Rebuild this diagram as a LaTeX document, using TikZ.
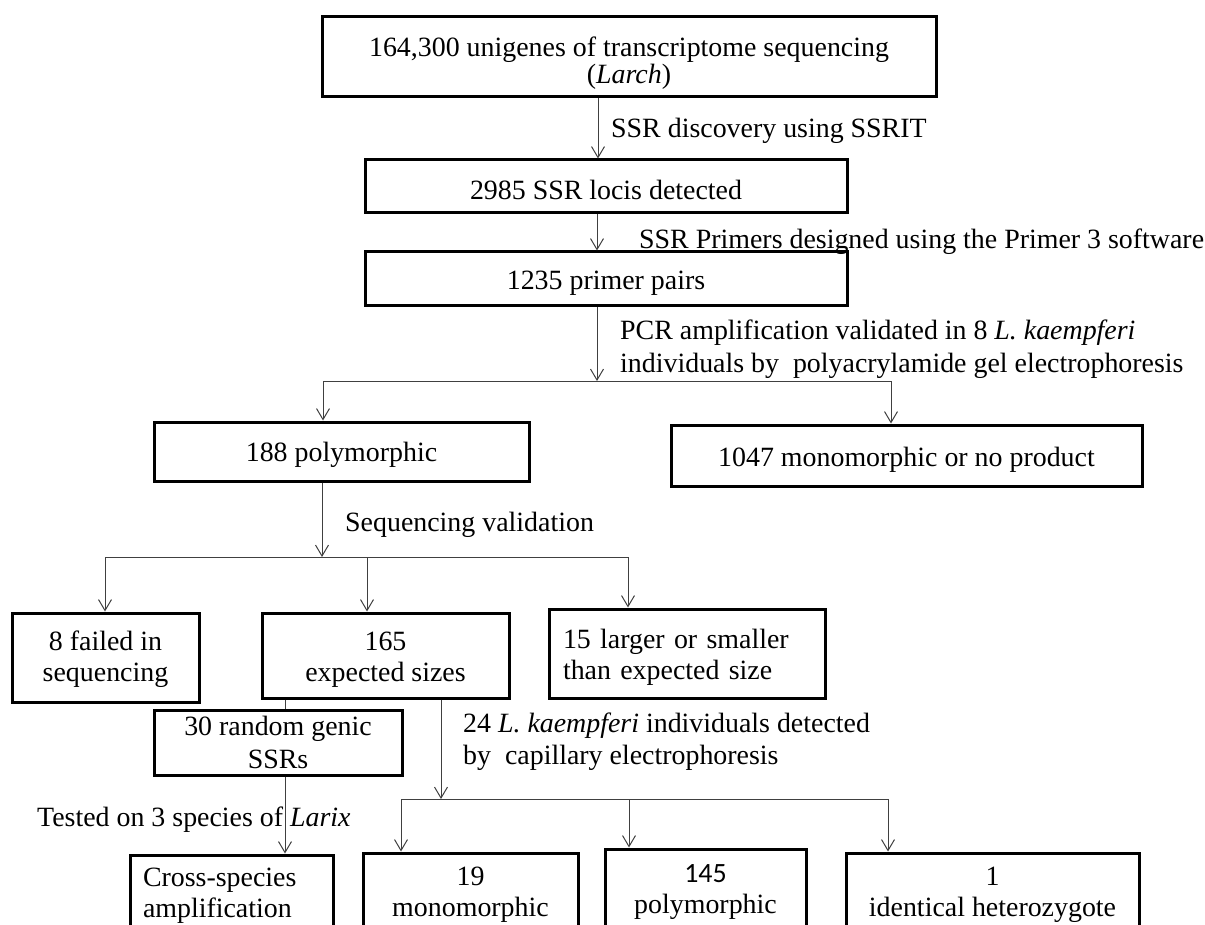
\documentclass[tikz,border=0pt]{standalone}
\usepackage{fontspec}
\setmainfont{Liberation Serif}
\newfontfamily\calib{Carlito}
\usetikzlibrary{arrows.meta}
\newcommand\myst{\rule{0pt}{27pt}}
\begin{document}
\begin{tikzpicture}[x=1pt,y=-1pt,
  every node/.style={font=\fontsize{27.9}{31}\selectfont},
  boxst/.style={draw, line width=3pt, inner sep=0pt, align=center},
  lbl/.style={anchor=west, inner sep=0pt, align=left},
  ln/.style={draw=black!75, line width=1pt},
  arr/.style={ln, -{Straight Barb[length=11pt,width=13pt,line width=1pt]}}]
\clip (0,0) rectangle (1205,925);
\fill[white] (0,0) rectangle (1205,925);
% boxes
\node[boxst, minimum width=614pt, minimum height=80pt, font=\fontsize{27.9}{27}\selectfont] (top) at (629,57)
  {\rule{0pt}{31pt}164,300 unigenes of transcriptome sequencing\\(\textit{Larch})};
\node[boxst, minimum width=482pt, minimum height=53pt] (b2985) at (606,186.5) {\myst 2985 SSR locis detected};
\node[boxst, minimum width=482pt, minimum height=54pt] (b1235) at (606,279) {\myst 1235 primer pairs};
\node[boxst, minimum width=375pt, minimum height=59pt] (b188) at (341.5,451.5) {\myst 188 polymorphic};
\node[boxst, minimum width=471pt, minimum height=61pt] (b1047) at (906.5,455.5) {\myst 1047 monomorphic or no product};
\node[boxst, minimum width=187pt, minimum height=89pt] (b8) at (105.5,657.5) {\rule{0pt}{23pt}8 failed in\\sequencing};
\node[boxst, minimum width=247pt, minimum height=85pt] (b165) at (385.5,655.5) {\myst 165\\expected sizes};
\node[boxst, minimum height=89pt, inner xsep=14pt, text width=248pt, align=left] (b15) at (687,653.5)
  {\myst 15 larger or smaller\\than expected size};
\node[boxst, minimum width=248pt, minimum height=65pt, font=\fontsize{27.9}{33}\selectfont] (b30) at (278,742.5) {30 random genic\\SSRs};
\node[boxst, minimum height=75pt, inner xsep=13pt, text width=177pt, align=left] (bcross) at (231.5,892.5)
  {\rule{0pt}{25pt}Cross-species\\amplification};
\node[boxst, minimum width=215pt, minimum height=77pt] (b19) at (470.5,891.5) {\rule{0pt}{25pt}19\\monomorphic};
\node[boxst, minimum width=201pt, minimum height=79pt] (b145) at (705.5,888.5) {\rule{0pt}{25pt}{\calib 145}\\polymorphic};
\node[boxst, minimum width=293pt, minimum height=77pt] (b1) at (992.5,891.5) {\rule{0pt}{25pt}1\\identical heterozygote};
% labels
\node[lbl] (l1) at (611,131) {SSR discovery using SSRIT};
\node[lbl] (l2) at (639,242) {SSR Primers designed using the Primer 3 software};
\node[lbl, font=\fontsize{27.9}{33}\selectfont] (l3) at (620,349.5)
  {PCR amplification validated in 8 \textit{L. kaempferi}\\individuals by\ \ polyacrylamide gel electrophoresis};
\node[lbl] (l4) at (345,525) {Sequencing validation};
\node[lbl, font=\fontsize{27.9}{32}\selectfont] (l5) at (463,742)
  {24 \textit{L. kaempferi} individuals detected\\by\ \ capillary electrophoresis};
\node[lbl] (l6) at (37,820) {Tested on 3 species of \textit{Larix}};
% junction coordinates
\coordinate (a1) at (598,0);
\coordinate (a2) at (597,0);
\coordinate (j1) at (597,381);
\coordinate (j1l) at (323,381);
\coordinate (j1r) at (891,381);
\coordinate (j2) at (322,557);
\coordinate (j2l) at (105,557);
\coordinate (j2m) at (367,557);
\coordinate (j2r) at (628,557);
\coordinate (a3) at (285,0);
\coordinate (j3) at (441,799);
\coordinate (j3l) at (401,799);
\coordinate (j3m) at (629,799);
\coordinate (j3r) at (888,799);
% connectors
\draw[arr] (top.south -| a1) -- (b2985.north -| a1);
\draw[arr] (b2985.south -| a2) -- (b1235.north -| a2);
\draw[arr] (b1235.south -| j1) -- (j1);
\draw[ln] (j1l) -- (j1r);
\draw[arr] (j1l) -- (j1l |- b188.north);
\draw[arr] (j1r) -- (j1r |- b1047.north);
\draw[arr] (b188.south -| j2) -- (j2);
\draw[ln] (j2l) -- (j2r);
\draw[arr] (j2l) -- (j2l |- b8.north);
\draw[arr] (j2m) -- (j2m |- b165.north);
\draw[arr] (j2r) -- (j2r |- b15.north);
\draw[ln] (b165.south -| a3) -- (b30.north -| a3);
\draw[arr] (b30.south -| a3) -- (bcross.north -| a3);
\draw[arr] (b165.south -| j3) -- (j3);
\draw[ln] (j3l) -- (j3r);
\draw[arr] (j3l) -- (j3l |- b19.north);
\draw[arr] (j3m) -- (j3m |- b145.north);
\draw[arr] (j3r) -- (j3r |- b1.north);
\end{tikzpicture}
\end{document}
